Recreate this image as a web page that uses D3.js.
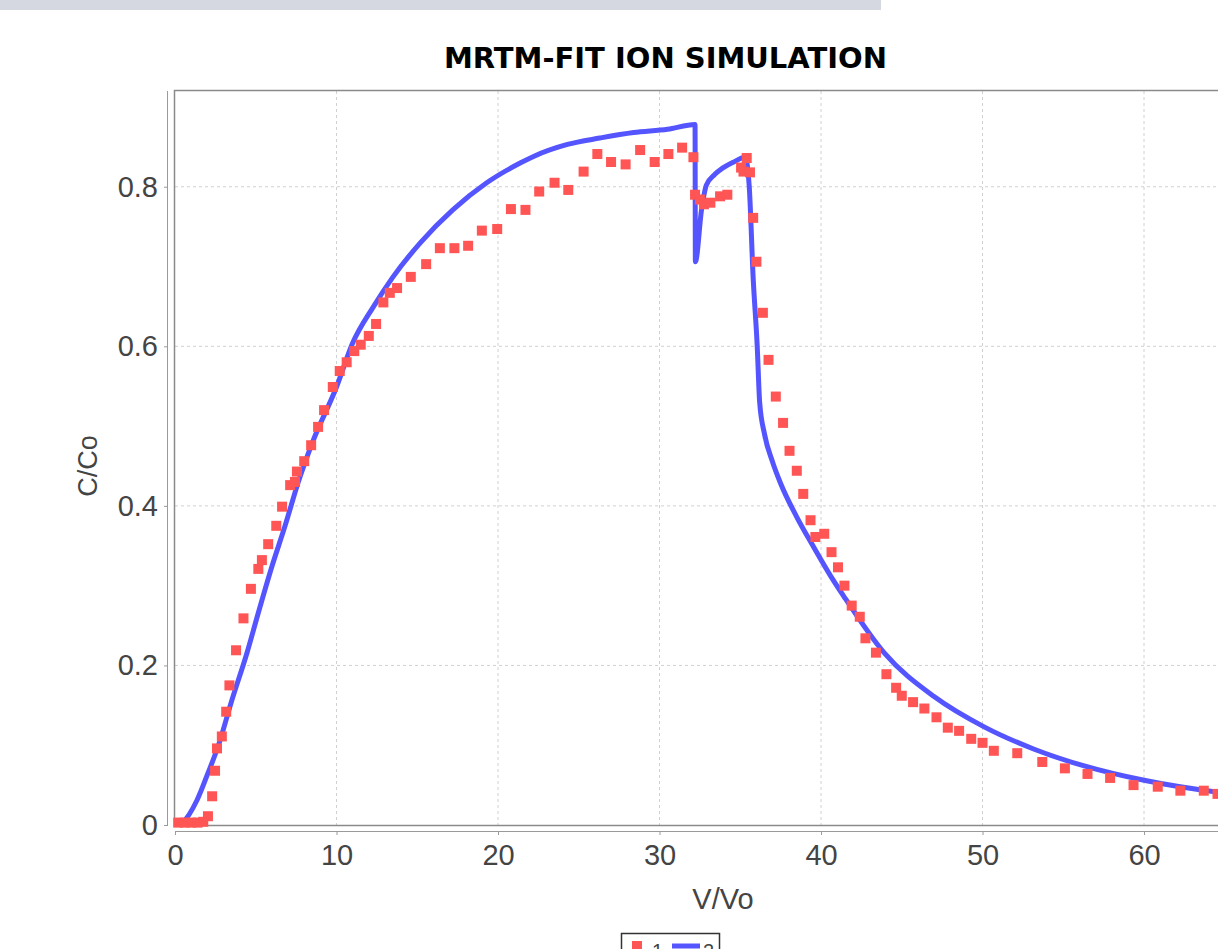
<!DOCTYPE html>
<html>
<head>
<meta charset="utf-8">
<script src="https://cdn.jsdelivr.net/npm/d3@7"></script>
<style>
  html, body { margin: 0; padding: 0; background: #fff; overflow: hidden; }
  svg { display: block; }
</style>
</head>
<body>
<svg id="chart" width="1218" height="949"></svg>
<script>
// ---------- data ----------
const chartTitle = "MRTM-FIT ION SIMULATION";
const xLabel = "V/Vo";
const yLabel = "C/Co";
const seriesNames = ["1", "2"];
const xTicks = [0, 10, 20, 30, 40, 50, 60];
const yTicks = [0, 0.2, 0.4, 0.6, 0.8];
const yTickLabels = ["0", "0.2", "0.4", "0.6", "0.8"];

// series 1: measured (red squares)
const measuredX = [0.2, 0.6, 1.0, 1.4, 1.75, 2.04, 2.3, 2.48, 2.6, 2.9, 3.17, 3.37, 3.78, 4.24, 4.7, 5.16, 5.38, 5.77, 6.27, 6.63, 7.13, 7.43, 7.55, 8.0, 8.43, 8.86, 9.23,
  9.77, 10.2, 10.63, 11.1, 11.5, 12.0, 12.45, 12.9, 13.3, 13.75, 14.6, 15.55, 16.4, 17.3, 18.15, 19.0, 19.95, 20.8, 21.7, 22.55, 23.5, 24.35, 25.3, 26.15, 27.0, 27.9, 28.8, 29.7, 30.55, 31.4, 32.1,
  32.2, 32.5, 32.75, 33.15, 33.75, 34.2, 35.05, 35.4, 35.2, 35.6, 35.8, 36.0, 36.4, 36.75, 37.2, 37.65, 38.05, 38.5, 38.9, 39.35, 39.65, 40.2, 40.65, 41.05, 41.45,
  41.9, 42.4, 42.75, 43.4, 44.05, 44.65, 45.0, 45.7, 46.4, 47.15, 47.85, 48.55, 49.3, 50.0, 50.7, 52.15, 53.7, 55.1, 56.5, 57.9, 59.35, 60.85, 62.25, 63.7, 64.55];
const measuredY = [0.003, 0.003, 0.003, 0.003, 0.004, 0.011, 0.036, 0.068, 0.096, 0.111, 0.142, 0.175, 0.219, 0.259, 0.296, 0.321, 0.332, 0.352, 0.375, 0.399, 0.426, 0.430, 0.443, 0.456, 0.476, 0.499, 0.520,
  0.549, 0.569, 0.580, 0.594, 0.602, 0.613, 0.628, 0.655, 0.667, 0.673, 0.687, 0.703, 0.723, 0.723, 0.726, 0.745, 0.747, 0.772, 0.771, 0.794, 0.805, 0.796, 0.819, 0.841, 0.831, 0.828, 0.846, 0.831, 0.841, 0.849, 0.837,
  0.790, 0.784, 0.778, 0.780, 0.788, 0.790, 0.824, 0.836, 0.819, 0.818, 0.761, 0.706, 0.642, 0.583, 0.537, 0.504, 0.469, 0.444, 0.415, 0.382, 0.361, 0.365, 0.342, 0.323, 0.300,
  0.275, 0.261, 0.234, 0.216, 0.189, 0.172, 0.162, 0.154, 0.146, 0.135, 0.122, 0.118, 0.108, 0.103, 0.093, 0.090, 0.079, 0.071, 0.064, 0.059, 0.050, 0.048, 0.043, 0.043, 0.039];

// series 2: simulated (blue line)
const simX = [0, 0.5, 1.36, 2.04, 2.66, 3.53, 4.46, 5.16, 6.0, 6.8, 7.62, 8.5, 10.0, 11.0, 12.3, 13.5, 15.2, 17.2, 19.3, 21.4, 22.2, 24.3, 26.3, 28.4, 30.5, 32.2,
  32.22, 32.6, 32.9, 33.4, 33.75, 34.6, 35.3, 35.55, 35.8, 36.05, 36.2, 36.5, 37.0, 37.5, 38.5, 39.5, 40.6, 41.4, 43.9, 47.0, 50.1, 53.2, 56.3, 60.0, 64.6, 67.8];
const simY = [0, 0.004, 0.031, 0.065, 0.098, 0.157, 0.216, 0.266, 0.324, 0.374, 0.429, 0.479, 0.549, 0.604, 0.650, 0.687, 0.730, 0.771, 0.805, 0.830, 0.838, 0.853, 0.861, 0.868, 0.872, 0.878,
  0.706, 0.771, 0.802, 0.815, 0.821, 0.831, 0.837, 0.802, 0.685, 0.600, 0.530, 0.490, 0.455, 0.428, 0.386, 0.350, 0.312, 0.287, 0.216, 0.161, 0.123, 0.095, 0.074, 0.056, 0.041, 0.034];

// ---------- layout ----------
const svg = d3.select("#chart");
const plotLeft = 175, plotTop = 91, plotBottom = 825, plotRight = 1270;
const x = d3.scaleLinear().domain([0, 67.8]).range([plotLeft, plotRight]);
const y = d3.scaleLinear().domain([0, 0.92]).range([plotBottom, plotTop]);

// top grey strip
svg.append("rect").attr("x", 0).attr("y", 0).attr("width", 881).attr("height", 10).attr("fill", "#d5d8e0");

// title
svg.append("text").attr("x", 665.5).attr("y", 68).attr("text-anchor", "middle")
  .attr("font-family", "DejaVu Sans").attr("font-weight", "bold").attr("font-size", 29)
  .attr("fill", "#000").text(chartTitle);

// clip
svg.append("clipPath").attr("id", "clip").append("rect")
  .attr("x", plotLeft).attr("y", plotTop).attr("width", plotRight - plotLeft).attr("height", plotBottom - plotTop);

// gridlines
const grid = svg.append("g");
grid.selectAll("line.vx").data(xTicks.filter(d => d > 0)).enter().append("line")
  .attr("x1", d => x(d)).attr("x2", d => x(d)).attr("y1", plotTop).attr("y2", plotBottom)
  .attr("stroke", "#d0d0d0").attr("stroke-width", 1).attr("stroke-dasharray", "3,3");
grid.selectAll("line.hy").data(yTicks.filter(d => d > 0)).enter().append("line")
  .attr("x1", plotLeft).attr("x2", plotRight).attr("y1", d => y(d)).attr("y2", d => y(d))
  .attr("stroke", "#d0d0d0").attr("stroke-width", 1).attr("stroke-dasharray", "3,3");

// plot outline
svg.append("rect").attr("x", plotLeft - 0.5).attr("y", plotTop - 0.5)
  .attr("width", plotRight - plotLeft + 1).attr("height", plotBottom - plotTop + 1)
  .attr("fill", "none").attr("stroke", "#8a8a8a").attr("stroke-width", 1.5);

// axes (offset from plot)
const xAxis = d3.axisBottom(x).tickValues(xTicks).tickSize(4).tickPadding(9).tickFormat(d3.format("d"));
const gx = svg.append("g").attr("transform", `translate(0,${plotBottom + 6})`).call(xAxis);
gx.select(".domain").attr("stroke", "#9a9a9a").attr("d", `M${plotLeft},0.5H${plotRight}`);
gx.selectAll(".tick line").attr("stroke", "#9a9a9a");
gx.selectAll(".tick text").attr("font-family", "Liberation Sans, Arial, sans-serif").attr("font-size", 29).attr("fill", "#444");

const yAxis = d3.axisLeft(y).tickValues(yTicks).tickSize(4).tickPadding(6).tickFormat((d, i) => yTickLabels[i]);
const gy = svg.append("g").attr("transform", `translate(${plotLeft - 7},0)`).call(yAxis);
gy.select(".domain").attr("stroke", "#9a9a9a").attr("d", `M-0.5,${plotTop}V${plotBottom}`);
gy.selectAll(".tick line").attr("stroke", "#9a9a9a");
gy.selectAll(".tick text").attr("font-family", "Liberation Sans, Arial, sans-serif").attr("font-size", 29).attr("fill", "#444");

// axis labels
svg.append("text").attr("x", 723).attr("y", 909).attr("text-anchor", "middle")
  .attr("font-family", "Liberation Sans, Arial, sans-serif").attr("font-size", 29).attr("fill", "#444").text(xLabel);
svg.append("text").attr("transform", "translate(97,466) rotate(-90)").attr("text-anchor", "middle")
  .attr("font-family", "Liberation Sans, Arial, sans-serif").attr("font-size", 27).attr("fill", "#444").text(yLabel);

// series
const plotG = svg.append("g").attr("clip-path", "url(#clip)");
const simData = simX.map((d, i) => [d, simY[i]]);
const measData = measuredX.map((d, i) => [d, measuredY[i]]);

plotG.append("path").datum(simData)
  .attr("d", d3.line().x(d => x(d[0])).y(d => y(d[1])).curve(d3.curveMonotoneX))
  .attr("fill", "none").attr("stroke", "#5555ff").attr("stroke-width", 5).attr("stroke-linejoin", "round");

const sq = 10;
svg.append("g").selectAll("rect").data(measData).enter().append("rect")
  .attr("x", d => x(d[0]) - sq / 2).attr("y", d => y(d[1]) - sq / 2)
  .attr("width", sq).attr("height", sq).attr("fill", "#ff5555");

// legend
const lg = svg.append("g");
lg.append("rect").attr("x", 621.5).attr("y", 933.5).attr("width", 98).attr("height", 30)
  .attr("fill", "#fff").attr("stroke", "#333").attr("stroke-width", 1.5);
lg.append("rect").attr("x", 632).attr("y", 941).attr("width", 10).attr("height", 10).attr("fill", "#ff5555");
lg.append("text").attr("x", 652).attr("y", 958).attr("font-family", "Liberation Sans, Arial, sans-serif")
  .attr("font-size", 20).attr("fill", "#444").text(seriesNames[0]);
lg.append("line").attr("x1", 672).attr("x2", 700).attr("y1", 946).attr("y2", 946)
  .attr("stroke", "#5555ff").attr("stroke-width", 5);
lg.append("text").attr("x", 703).attr("y", 958).attr("font-family", "Liberation Sans, Arial, sans-serif")
  .attr("font-size", 20).attr("fill", "#444").text(seriesNames[1]);
</script>
</body>
</html>
